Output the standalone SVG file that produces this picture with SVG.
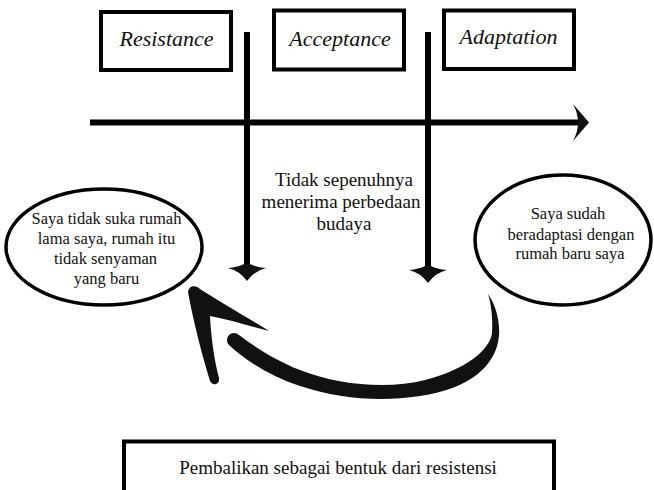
<svg xmlns="http://www.w3.org/2000/svg" width="654" height="490" viewBox="0 0 654 490">
<style>
.box{fill:#fff;stroke:#000;stroke-width:4}
.ell{fill:#fff;stroke:#000;stroke-width:3.5}
text{font-family:'Liberation Serif','DejaVu Serif',serif;fill:#111;text-anchor:middle}
.ti{font-size:22px;font-style:italic}
.tb{font-size:16.5px}
.tm{font-size:19px}
.ln{stroke:#000;stroke-width:6;fill:none}
.ink{fill:#111;stroke:none}
</style>
<rect width="654" height="490" fill="#fff"/>
<g id="connectors">
  <line class="ln" x1="90" y1="122.5" x2="584" y2="122.5"/>
  <path class="ink" d="M573,104 L589,122.5 L573,141 Q583,122.5 573,104 Z"/>
  <line class="ln" x1="247" y1="32" x2="247" y2="268"/>
  <path class="ink" d="M247,281 Q240,271 228,268 Q238,267 244,264 L250,264 Q256,267 266,268 Q254,271 247,281 Z"/>
  <line class="ln" x1="428" y1="32" x2="428" y2="270"/>
  <path class="ink" d="M428,283 Q421,273 409,270 Q419,269 425,266 L431,266 Q437,269 447,270 Q435,273 428,283 Z"/>
  <path class="ink" d="M488,294 C496,305 500,322 499,335 C497,365 470,389 420,396 C380,402 340,399 300,386 C270,376 245,360 229,345 A6,6 0 0 1 239,335 C255,347 275,360 300,370 C340,386 390,389 425,380 C465,370 490,350 492,333 C493,318 491,303 488,294 Z"/>
  <path class="ink" d="M188,292 C189,285 196,285 200,289 C220,302 245,316 269,331 C250,326 230,320 210,316 C211,336 214,360 219,378 C220,385 212,386 210,381 C202,355 193,320 188,292 Z"/>
</g>
<g id="node-resistance">
  <rect class="box" x="101" y="12" width="130" height="58"/>
  <text class="ti" x="166.5" y="46">Resistance</text>
</g>
<g id="node-acceptance">
  <rect class="box" x="274" y="10.5" width="130" height="59"/>
  <text class="ti" x="340" y="46">Acceptance</text>
</g>
<g id="node-adaptation">
  <rect class="box" x="444" y="10.5" width="130" height="58.5"/>
  <text class="ti" x="508.5" y="44">Adaptation</text>
</g>
<g id="node-acceptance-note">
  <text class="tm" x="344" y="186">Tidak sepenuhnya</text>
  <text class="tm" x="341" y="208">menerima perbedaan</text>
  <text class="tm" x="344" y="230">budaya</text>
</g>
<g id="node-left">
  <ellipse class="ell" cx="104" cy="247" rx="98" ry="58"/>
  <text class="tb" x="106.5" y="224">Saya tidak suka rumah</text>
  <text class="tb" x="106.5" y="244">lama saya, rumah itu</text>
  <text class="tb" x="105.5" y="264">tidak senyaman</text>
  <text class="tb" x="106.5" y="284">yang baru</text>
</g>
<g id="node-right">
  <ellipse class="ell" cx="563" cy="240" rx="88" ry="65"/>
  <text class="tb" x="568" y="219">Saya sudah</text>
  <text class="tb" x="571" y="240">beradaptasi dengan</text>
  <text class="tb" x="570" y="259">rumah baru saya</text>
</g>
<g id="node-bottom">
  <rect class="box" x="124" y="441.5" width="430" height="60"/>
  <text class="tm" x="338" y="474">Pembalikan sebagai bentuk dari resistensi</text>
</g>
</svg>
